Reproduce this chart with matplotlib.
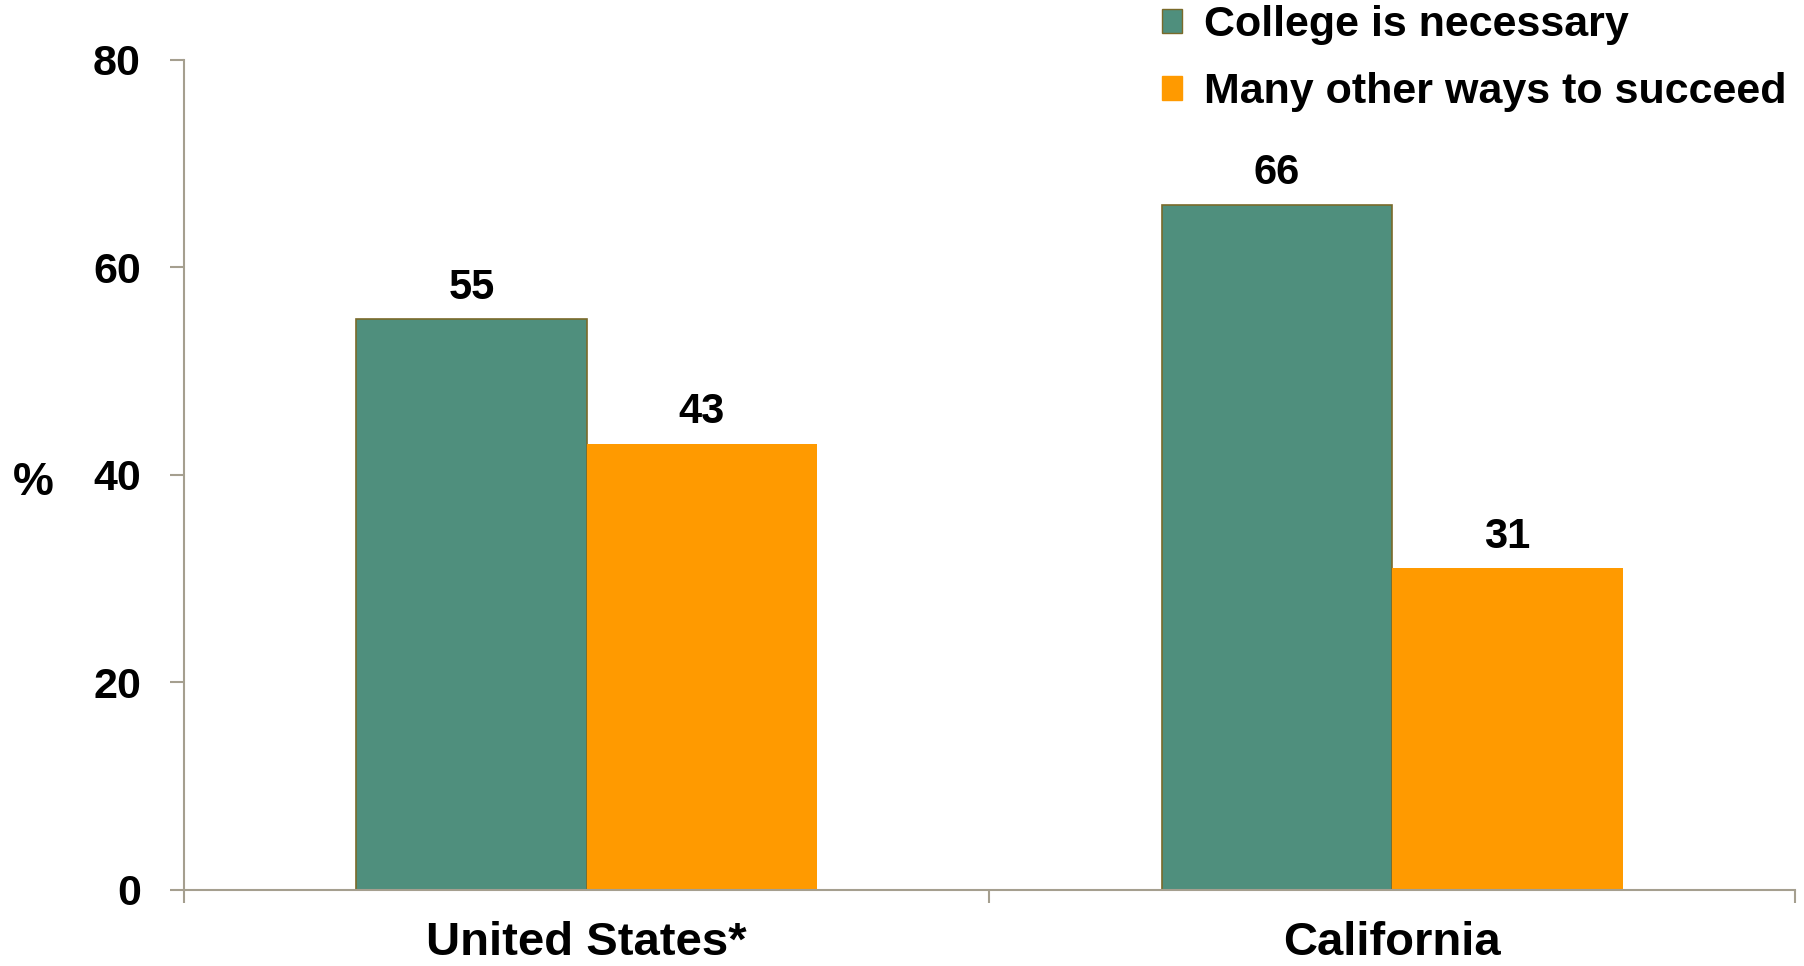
import matplotlib.pyplot as plt
import numpy as np
from matplotlib.patches import Patch

# Dados
categorias = ["United States*", "California"]
series = ["College is necessary", "Many other ways to succeed"]
college = [55, 66]
outras = [43, 31]
yticks = [0, 20, 40, 60, 80]

verde = "#4F8F7D"
laranja = "#FF9A00"
eixo = "#A59F8F"

plt.rcParams["font.family"] = ["Liberation Sans", "DejaVu Sans"]
plt.rcParams["font.weight"] = "bold"

fig = plt.figure(figsize=(18.04, 9.66), dpi=100)
ax = fig.add_axes([0.102, 0.0787, 0.893, 0.8592])

x = np.arange(len(categorias))
w = 0.286
b1 = ax.bar(x - w / 2, college, w, color=verde, edgecolor="#7A6A2A", linewidth=1.2)
b2 = ax.bar(x + w / 2, outras, w, color=laranja, edgecolor=laranja, linewidth=0)

# Rótulos de valores
for barras in (b1, b2):
    for r in barras:
        ax.annotate(f"{r.get_height():.0f}", (r.get_x() + r.get_width() / 2, r.get_height()),
                    xytext=(0, 15), textcoords="offset points", ha="center", va="baseline",
                    fontsize=30, fontweight="bold")

ax.set_xlim(-0.5, 1.5)
ax.set_ylim(0, 80)
ax.set_yticks(yticks)
ax.set_yticklabels([str(v) for v in yticks], fontsize=31, fontweight="bold")
ax.set_xticks(x)
ax.set_xticklabels(categorias, fontsize=34, fontweight="bold")
ax.set_xticks([-0.5, 0.5, 1.5], minor=True)
ax.tick_params(axis="x", which="major", length=0, pad=22)
ax.tick_params(axis="x", which="minor", length=9, width=1.5, color=eixo, direction="out")
ax.tick_params(axis="y", length=10, width=1.5, color=eixo, pad=21)

for s in ["top", "right"]:
    ax.spines[s].set_visible(False)
for s in ["left", "bottom"]:
    ax.spines[s].set_color(eixo)
    ax.spines[s].set_linewidth(1.5)

fig.text(0.007, 0.5, "%", fontsize=33, fontweight="bold", ha="left", va="center")

# Legenda
handles = [Patch(facecolor=verde, edgecolor="#7A6A2A"), Patch(facecolor=laranja, edgecolor=laranja)]
leg = ax.legend(handles, series, loc="upper left", bbox_to_anchor=(0.644, 0.995),
                bbox_transform=fig.transFigure, frameon=False, fontsize=31,
                handlelength=0.48, handleheight=0.48, handletextpad=0.5,
                labelspacing=0.64, borderpad=0, borderaxespad=0)
for t in leg.get_texts():
    t.set_fontweight("bold")

plt.savefig("out.png", dpi=100)
